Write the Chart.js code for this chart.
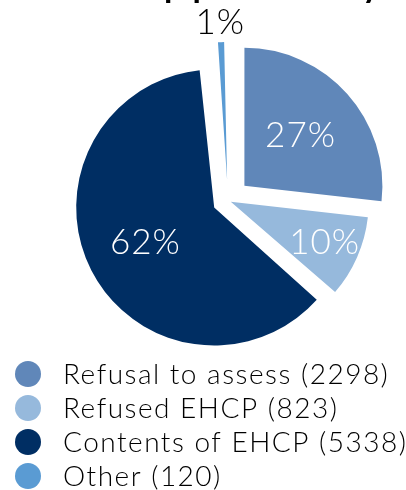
<!DOCTYPE html>
<html>
<head>
<meta charset="utf-8">
<script src="https://cdn.jsdelivr.net/npm/chart.js@4.4.1/dist/chart.umd.min.js"></script>
<style>
html,body{margin:0;padding:0;background:#fff;}
#wrap{width:406px;height:490px;overflow:hidden;}
</style>
</head>
<body>
<div id="wrap"><canvas id="c" width="406" height="490"></canvas></div>
<script>
const categories = ['Refusal to assess', 'Refused EHCP', 'Contents of EHCP', 'Other'];
const values = [2298, 823, 5338, 120];
const colors = ['#6087B9', '#96B9DC', '#002E63', '#5A9BD3'];
const labelColors = ['#ffffff', '#ffffff', '#ffffff', '#000000'];
const explode = [88, 12, 62, 82];
const labelRadius = [0.705, 0.765, 0.672, 1.287];
const titleText = 'SEND appeals by';

const FONT = 'Lato, "DejaVu Sans", sans-serif';
const total = values.reduce((a, b) => a + b, 0);

// keep every exploded slice at the same radius (Chart.js grows small slices when offset)
const evenRadius = {
  id: 'evenRadius',
  afterDatasetsUpdate(chart) {
    const meta = chart.getDatasetMeta(0);
    const R = meta.controller.outerRadius;
    meta.data.forEach((arc, i) => {
      const circ = arc.endAngle - arc.startAngle;
      const fix = 1 - Math.sin(Math.min(Math.PI, circ));
      arc.outerRadius = R - (explode[i] / 4) * fix;
    });
  }
};

const overlay = {
  id: 'overlay',
  afterDraw(chart) {
    const ctx = chart.ctx;
    const meta = chart.getDatasetMeta(0);
    const R = meta.controller.outerRadius;
    ctx.save();
    // slice percentages
    ctx.font = '300 35px ' + FONT;
    ctx.letterSpacing = '1px';
    ctx.textAlign = 'center';
    ctx.textBaseline = 'middle';
    meta.data.forEach((arc, i) => {
      const mid = (arc.startAngle + arc.endAngle) / 2;
      const r = R * labelRadius[i];
      ctx.fillStyle = labelColors[i];
      ctx.fillText(Math.round(values[i] / total * 100) + '%',
        arc.x + Math.cos(mid) * r, arc.y + Math.sin(mid) * r);
    });
    // title (cut off at the top of the frame)
    ctx.font = 'bold 34px ' + FONT;
    ctx.textAlign = 'left';
    ctx.textBaseline = 'alphabetic';
    ctx.fillStyle = '#000';
    ctx.letterSpacing = '0px';
    const w0 = ctx.measureText('peals b').width;
    const ls = (170 - w0) / 7;
    ctx.letterSpacing = ls + 'px';
    const pre = ctx.measureText('SEND a').width;
    ctx.fillText(titleText, 164 - pre, -3);
    // legend
    ctx.font = '300 28px ' + FONT;
    ctx.letterSpacing = '1.5px';
    ctx.textBaseline = 'middle';
    categories.forEach((c, i) => {
      const y = 374 + i * 34;
      ctx.beginPath();
      ctx.arc(28, y, 13, 0, Math.PI * 2);
      ctx.fillStyle = colors[i];
      ctx.fill();
      ctx.fillStyle = '#000';
      ctx.fillText(c + ' (' + values[i] + ')', 63, y + 1);
    });
    ctx.restore();
  }
};

new Chart(document.getElementById('c'), {
  type: 'pie',
  data: {
    labels: categories,
    datasets: [{
      data: values,
      backgroundColor: colors,
      borderWidth: 0,
      offset: explode,
      hoverOffset: 0,
      clip: false
    }]
  },
  options: {
    responsive: false,
    animation: false,
    events: [],
    radius: 138,
    layout: { padding: { left: 50, right: 0, top: 0, bottom: 89 } },
    plugins: {
      legend: { display: false },
      tooltip: { enabled: false },
      title: { display: false }
    }
  },
  plugins: [evenRadius, overlay]
});
</script>
</body>
</html>
